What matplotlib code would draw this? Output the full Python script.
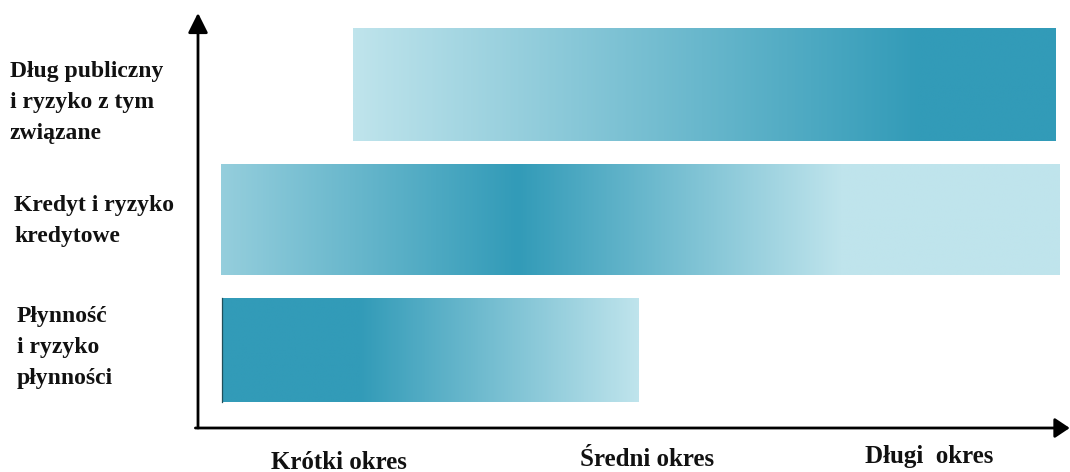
import numpy as np
import matplotlib
matplotlib.use("Agg")
import matplotlib.pyplot as plt
from matplotlib.colors import LinearSegmentedColormap

# ---- data ----
categories = ["Płynność\ni ryzyko\npłynności",
              "Kredyt i ryzyko\nkredytowe",
              "Dług publiczny\ni ryzyko z tym\nzwiązane"]
# horizon span of each bar (axis units 0..100)
bar_start = [2.8, 2.6, 17.8]
bar_end = [50.7, 99.0, 98.6]
# gradient stops: (position, intensity 0=light, 1=dark)
grad_pos = [[2.8, 18.6, 50.7],
            [2.6, 36.7, 74.0, 99.0],
            [17.8, 83.0, 98.6]]
grad_val = [[1.0, 1.0, 0.0],
            [0.3, 1.0, 0.0, 0.0],
            [0.0, 1.0, 1.0]]
x_labels = ["Krótki okres", "Średni okres", "Długi  okres"]
x_label_pos = [16.2, 51.6, 84.1]

LIGHT = "#bfe4ec"
DARK = "#329bb8"
cmap = LinearSegmentedColormap.from_list("teal", [LIGHT, DARK])

W, H = 1070, 472
fig = plt.figure(figsize=(W / 100, H / 100), dpi=100)
ax_l, ax_b, ax_r, ax_t = 198, 428, 1068, 15
ax = fig.add_axes([ax_l / W, 1 - ax_b / H, (ax_r - ax_l) / W, (ax_b - ax_t) / H])
ax.set_xlim(0, 100)
ax.set_ylim(-0.5876, 2.5235)
for s in ax.spines.values():
    s.set_visible(False)
ax.set_xticks([])
ax.set_yticks([])

# layout: row centres (slightly uneven spacing as in the original) and heights
row_y = [0.0, 0.979, 2.0]
bar_heights = [0.78, 0.83, 0.85]
for i in range(len(categories)):
    h = bar_heights[i]
    yc = row_y[i]
    xs = np.linspace(bar_start[i], bar_end[i], 400)
    vals = np.interp(xs, grad_pos[i], grad_val[i])
    ax.imshow(vals[np.newaxis, :], cmap=cmap, vmin=0, vmax=1, aspect="auto",
              interpolation="bilinear",
              extent=(bar_start[i], bar_end[i], yc - h / 2, yc + h / 2),
              zorder=2)
# thin dark left edge on the first bar
ax.plot([bar_start[0], bar_start[0]],
        [row_y[0] - bar_heights[0] / 2, row_y[0] + bar_heights[0] / 2],
        color="#1f4f5a", lw=0.9, zorder=3)

# axes with arrows
arrow_kw = dict(arrowstyle="-|>,head_length=0.6,head_width=0.3", color="black",
                lw=2.0, mutation_scale=20, shrinkA=0, shrinkB=0)
ax.annotate("", xy=(0, 1.005), xytext=(0, 0), xycoords="axes fraction",
            arrowprops=arrow_kw, annotation_clip=False)
ax.annotate("", xy=(1.002, 0), xytext=(-0.003, 0), xycoords="axes fraction",
            arrowprops=dict(arrow_kw, arrowstyle="-|>,head_length=0.45,head_width=0.3"),
            annotation_clip=False)

font = dict(family=["Liberation Serif", "DejaVu Serif"], fontweight="bold",
            color="#111111")

# left category labels: (left px, first baseline px)
label_anchor = [(17, 322), (14, 211), (10, 77)]
line_gap = 31
for i, txt in enumerate(categories):
    x0, y0 = label_anchor[i]
    for k, line in enumerate(txt.split("\n")):
        fig.text(x0 / W, 1 - (y0 + k * line_gap) / H, line, ha="left",
                 va="baseline", fontsize=17, **font)

# horizon labels
label_base = [469, 466, 463]
for lab, xp, yb in zip(x_labels, x_label_pos, label_base):
    px = ax_l + xp / 100 * (ax_r - ax_l)
    fig.text(px / W, 1 - yb / H, lab, ha="center", va="baseline",
             fontsize=18, **font)

fig.savefig("out.png", dpi=100)
